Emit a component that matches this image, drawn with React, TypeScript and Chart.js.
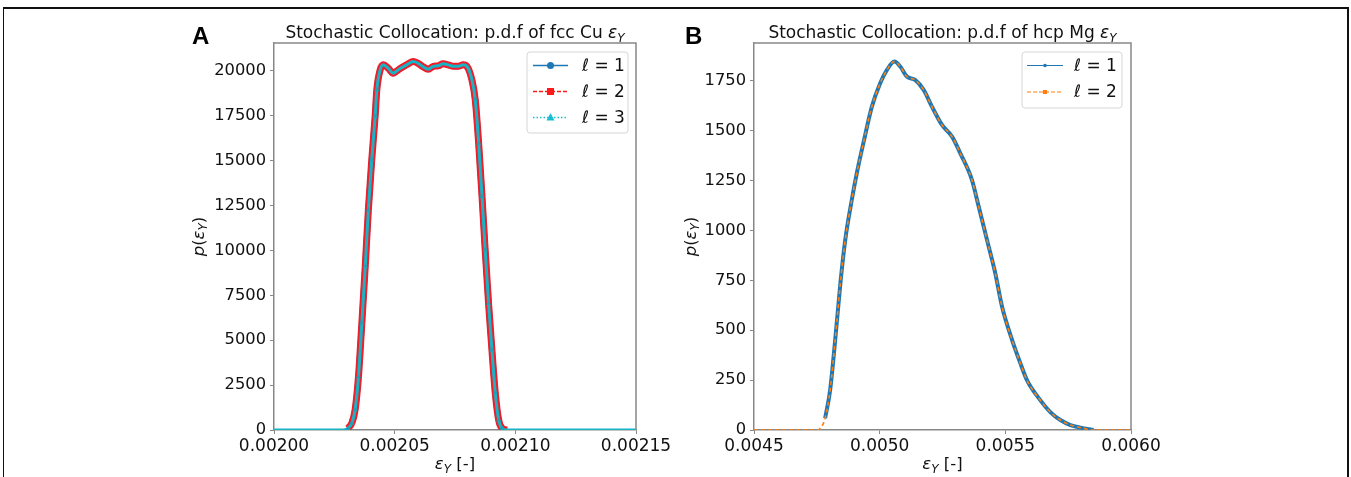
import React, { useEffect, useRef } from "react";
import { Chart, registerables } from "chart.js";

Chart.register(...registerables);

// ---------- Panel A: fcc Cu ----------
const cuX = [
  0.002, 0.00201, 0.00202, 0.002027, 0.0020295, 0.0020307, 0.0020322, 0.0020336, 0.002035,
  0.0020364, 0.0020378, 0.0020391, 0.0020405, 0.0020419, 0.0020426, 0.002044, 0.0020453,
  0.0020473, 0.0020494, 0.0020515, 0.0020535, 0.0020556, 0.0020577, 0.0020597, 0.0020618,
  0.0020639, 0.002066, 0.002068, 0.0020701, 0.0020722, 0.0020743, 0.0020763, 0.0020784,
  0.00208, 0.002082, 0.0020834, 0.0020848, 0.0020862, 0.0020875, 0.0020889, 0.0020903,
  0.0020917, 0.0020931, 0.0020945, 0.0020965, 0.002098, 0.00211, 0.00213, 0.00215,
];
const cuL1 = [
  null, null, null, null, null, null, 372, 1114, 2970,
  5944, 9098, 12256, 15042, 17455, 18941, 20056, 20334,
  20150, 19870, 20056, 20223, 20390, 20520, 20417, 20223,
  20093, 20250, 20278, 20390, 20334, 20250, 20250, 20334,
  20240, 19500, 18384, 15972, 12997, 10028, 7058, 4457,
  2043, 557, 93, null, null, null, null, null,
];
const cuL2 = [
  null, null, null, null, null, 100, 372, 1114, 2970,
  5944, 9098, 12256, 15042, 17455, 18941, 20056, 20334,
  20150, 19870, 20056, 20223, 20390, 20520, 20417, 20223,
  20093, 20250, 20278, 20390, 20334, 20250, 20250, 20334,
  20240, 19500, 18384, 15972, 12997, 10028, 7058, 4457,
  2043, 557, 93, 0, null, null, null, null,
];
const cuL3 = [
  0, 0, 0, 0, 10, 100, 372, 1114, 2970,
  5944, 9098, 12256, 15042, 17455, 18941, 20056, 20334,
  20150, 19870, 20056, 20223, 20390, 20520, 20417, 20223,
  20093, 20250, 20278, 20390, 20334, 20250, 20250, 20334,
  20240, 19500, 18384, 15972, 12997, 10028, 7058, 4457,
  2043, 557, 93, 0, 0, 0, 0, 0,
];
const cuXTicks = [0.002, 0.00205, 0.0021, 0.00215];
const cuYTicks = [0, 2500, 5000, 7500, 10000, 12500, 15000, 17500, 20000];

// ---------- Panel B: hcp Mg ----------
const mgX = [
  0.0045, 0.0046, 0.0047, 0.00475, 0.004763, 0.004783, 0.004803, 0.004823, 0.004845,
  0.004863, 0.004889, 0.004909, 0.004938, 0.004969, 0.005002, 0.005029, 0.005059, 0.005082,
  0.005108, 0.005141, 0.005175, 0.005208, 0.005248, 0.005288, 0.005321, 0.005367, 0.005394,
  0.005427, 0.00546, 0.005487, 0.005527, 0.00556, 0.005586, 0.005639, 0.005679, 0.005719,
  0.005759, 0.005799, 0.005851, 0.0059, 0.00595, 0.006,
];
const mgL1 = [
  null, null, null, null, null, 59, 201, 451, 752,
  953, 1153, 1287, 1454, 1621, 1738, 1805, 1847, 1822,
  1772, 1755, 1705, 1621, 1529, 1471, 1387, 1254, 1120,
  953, 786, 618, 451, 334, 250, 150, 90, 50,
  25, 12, 0, null, null, null,
];
const mgL2 = [
  0, 0, 0, 0, 8, 59, 201, 451, 752,
  953, 1153, 1287, 1454, 1621, 1738, 1805, 1847, 1822,
  1772, 1755, 1705, 1621, 1529, 1471, 1387, 1254, 1120,
  953, 786, 618, 451, 334, 250, 150, 90, 50,
  25, 12, 0, 0, 0, 0,
];
const mgXTicks = [0.0045, 0.005, 0.0055, 0.006];
const mgYTicks = [0, 250, 500, 750, 1000, 1250, 1500, 1750];

const legendA = ["ℓ = 1", "ℓ = 2", "ℓ = 3"];
const legendB = ["ℓ = 1", "ℓ = 2"];

const FONT = '"DejaVu Sans", sans-serif';

type Part = { t: string; it?: boolean; sub?: boolean };

function drawParts(ctx: CanvasRenderingContext2D, parts: Part[], x: number, y: number, size: number, align: "left" | "center") {
  const fonts = parts.map((p) => `${p.it ? "italic " : ""}${p.sub ? Math.round(size * 0.7) : size}px ${FONT}`);
  const widths = parts.map((p, i) => {
    ctx.font = fonts[i];
    return ctx.measureText(p.t).width;
  });
  const total = widths.reduce((a, b) => a + b, 0);
  let cx = align === "center" ? x - total / 2 : x;
  ctx.textAlign = "left";
  parts.forEach((p, i) => {
    ctx.font = fonts[i];
    ctx.fillText(p.t, cx, p.sub ? y + size * 0.24 : y);
    cx += widths[i];
  });
}

type LegendEntry = { label: string; color: string; lw: number; dash: number[]; marker: string; ms: number };
type PanelCfg = {
  title: string;
  letter: string;
  letterX: number;
  ylabelX: number;
  legendBox: [number, number, number, number];
  lineX: [number, number];
  textX: number;
  rowY: number[];
  entries: LegendEntry[];
};

function drawMarker(ctx: CanvasRenderingContext2D, m: string, x: number, y: number, s: number, color: string) {
  ctx.fillStyle = color;
  ctx.beginPath();
  if (m === "circle") ctx.arc(x, y, s, 0, Math.PI * 2);
  else if (m === "square") ctx.rect(x - s, y - s, 2 * s, 2 * s);
  else if (m === "triangle") {
    ctx.moveTo(x, y - s * 1.15);
    ctx.lineTo(x + s, y + s * 0.75);
    ctx.lineTo(x - s, y + s * 0.75);
    ctx.closePath();
  }
  ctx.fill();
}

function makePlugin(cfg: PanelCfg) {
  return {
    id: "panelDecor" + cfg.letter,
    afterDraw(chart: any) {
      const ctx: CanvasRenderingContext2D = chart.ctx;
      const a = chart.chartArea;
      ctx.save();
      // top & right spines
      ctx.strokeStyle = "#888";
      ctx.lineWidth = 1.5;
      ctx.beginPath();
      ctx.moveTo(a.left, a.top);
      ctx.lineTo(a.right, a.top);
      ctx.lineTo(a.right, a.bottom);
      ctx.stroke();
      ctx.fillStyle = "#111";
      ctx.textBaseline = "alphabetic";
      const cx = (a.left + a.right) / 2;
      // title
      drawParts(ctx, [{ t: cfg.title }, { t: "ε", it: true }, { t: "Y", it: true, sub: true }], cx, 38, 17, "center");
      // panel letter
      ctx.font = `bold 24px "Liberation Sans", Arial, sans-serif`;
      ctx.textAlign = "left";
      ctx.fillStyle = "#000";
      ctx.fillText(cfg.letter, cfg.letterX, 44);
      ctx.fillStyle = "#111";
      // x label
      drawParts(ctx, [{ t: "ε", it: true }, { t: "Y", it: true, sub: true }, { t: " [-]" }], cx, 469, 16.5, "center");
      // y label
      ctx.save();
      ctx.translate(cfg.ylabelX, (a.top + a.bottom) / 2);
      ctx.rotate(-Math.PI / 2);
      ctx.textBaseline = "middle";
      drawParts(ctx, [{ t: "p", it: true }, { t: "(" }, { t: "ε", it: true }, { t: "Y", it: true, sub: true }, { t: ")" }], 0, 0, 16.5, "center");
      ctx.restore();
      // legend box
      const [bx0, by0, bx1, by1] = cfg.legendBox;
      ctx.beginPath();
      if ((ctx as any).roundRect) (ctx as any).roundRect(bx0, by0, bx1 - bx0, by1 - by0, 3);
      else ctx.rect(bx0, by0, bx1 - bx0, by1 - by0);
      ctx.fillStyle = "rgba(255,255,255,0.85)";
      ctx.fill();
      ctx.strokeStyle = "#d6d6d6";
      ctx.lineWidth = 1;
      ctx.stroke();
      cfg.entries.forEach((e, i) => {
        const y = cfg.rowY[i];
        ctx.strokeStyle = e.color;
        ctx.lineWidth = e.lw;
        ctx.setLineDash(e.dash);
        ctx.beginPath();
        ctx.moveTo(cfg.lineX[0], y);
        ctx.lineTo(cfg.lineX[1], y);
        ctx.stroke();
        ctx.setLineDash([]);
        drawMarker(ctx, e.marker, (cfg.lineX[0] + cfg.lineX[1]) / 2, y, e.ms, e.color);
        ctx.fillStyle = "#111";
        ctx.textBaseline = "middle";
        const [lp, rp] = e.label.split(" = ");
        drawParts(ctx, [{ t: lp, it: true }, { t: " = " + rp }], cfg.textX, y + 1, 17, "left");
      });
      ctx.restore();
    },
  };
}

function scalesFor(min: number, max: number, xt: number[], digits: number, ymax: number, yt: number[]) {
  return {
    x: {
      type: "linear",
      min,
      max,
      afterBuildTicks: (s: any) => {
        s.ticks = xt.map((v) => ({ value: v }));
      },
      afterFit: (s: any) => {
        s.height = 40;
      },
      ticks: {
        callback: (v: any) => Number(v).toFixed(digits),
        font: { family: FONT, size: 17 },
        color: "#111",
        padding: 2,
        maxRotation: 0,
        autoSkip: false,
      },
      grid: { drawOnChartArea: false, drawTicks: true, tickLength: 4, color: "#888", lineWidth: 1 },
      border: { display: true, color: "#888", width: 1.5 },
    },
    y: {
      type: "linear",
      min: 0,
      max: ymax,
      afterBuildTicks: (s: any) => {
        s.ticks = yt.map((v) => ({ value: v }));
      },
      afterFit: (s: any) => {
        s.width = 80;
      },
      ticks: { font: { family: FONT, size: 16.3 }, color: "#111", padding: 4, autoSkip: false, callback: (v: any) => String(v) },
      grid: { drawOnChartArea: false, drawTicks: true, tickLength: 4, color: "#888", lineWidth: 1 },
      border: { display: true, color: "#888", width: 1.5 },
    },
  };
}

function pts(xs: number[], ys: (number | null)[]) {
  return xs.map((x, i) => ({ x, y: ys[i] }));
}

export default function App() {
  const refA = useRef<HTMLCanvasElement>(null);
  const refB = useRef<HTMLCanvasElement>(null);

  useEffect(() => {
    const cfgA: PanelCfg = {
      title: "Stochastic Collocation: p.d.f of fcc Cu ",
      letter: "A",
      letterX: 192,
      ylabelX: 200,
      legendBox: [527, 52, 628, 133],
      lineX: [533, 568],
      textX: 582,
      rowY: [65.5, 91.5, 117.5],
      entries: [
        { label: legendA[0], color: "#1f77b4", lw: 1.5, dash: [], marker: "circle", ms: 3.5 },
        { label: legendA[1], color: "#ff1a1a", lw: 1.5, dash: [4, 2], marker: "square", ms: 3.5 },
        { label: legendA[2], color: "#17becf", lw: 1.5, dash: [1.5, 2], marker: "triangle", ms: 4 },
      ],
    };
    const cfgB: PanelCfg = {
      title: "Stochastic Collocation: p.d.f of hcp Mg ",
      letter: "B",
      letterX: 685,
      ylabelX: 692,
      legendBox: [1022, 52, 1122, 108],
      lineX: [1027, 1063],
      textX: 1074,
      rowY: [65.5, 92],
      entries: [
        { label: legendB[0], color: "#1f77b4", lw: 1.2, dash: [], marker: "circle", ms: 1.8 },
        { label: legendB[1], color: "#ff7f0e", lw: 1.2, dash: [4, 2], marker: "square", ms: 2 },
      ],
    };

    const chartA = new Chart(refA.current!, {
      type: "line",
      data: {
        datasets: [
          { label: legendA[0], data: pts(cuX, cuL1), borderColor: "#1f77b4", backgroundColor: "#1f77b4", borderWidth: 6, pointRadius: 0, cubicInterpolationMode: "monotone", spanGaps: false, order: 3 },
          { label: legendA[1], data: pts(cuX, cuL2), borderColor: "#f21d2a", backgroundColor: "#f21d2a", borderWidth: 7, pointRadius: 0, cubicInterpolationMode: "monotone", spanGaps: false, order: 2 },
          {
            label: legendA[2],
            data: pts(cuX, cuL3),
            borderColor: "#17b4c6",
            backgroundColor: "#17b4c6",
            borderWidth: 3,
            pointStyle: "triangle",
            pointRadius: (c: any) => (c.raw && c.raw.y > 50 && c.raw.y < 19000 ? 3 : 0),
            pointBorderWidth: 0,
            pointBackgroundColor: "#17a3b8",
            cubicInterpolationMode: "monotone",
            order: 1,
          },
        ],
      } as any,
      options: {
        animation: false,
        responsive: false,
        maintainAspectRatio: false,
        events: [],
        layout: { padding: { left: 194, right: 715, top: 43, bottom: 7 } },
        plugins: { legend: { display: false }, tooltip: { enabled: false }, title: { display: false } },
        scales: scalesFor(0.002, 0.00215, cuXTicks, 5, 21550, cuYTicks) as any,
      },
      plugins: [makePlugin(cfgA)],
    });

    const chartB = new Chart(refB.current!, {
      type: "line",
      data: {
        datasets: [
          { label: legendB[0], data: pts(mgX, mgL1), borderColor: "#1f77b4", backgroundColor: "#1f77b4", borderWidth: 4, pointRadius: 0, cubicInterpolationMode: "monotone", spanGaps: false, order: 2 },
          { label: legendB[1], data: pts(mgX, mgL2), borderColor: "#ff7f0e", backgroundColor: "#ff7f0e", borderWidth: 1.6, borderDash: [4, 3], pointRadius: 0, cubicInterpolationMode: "monotone", order: 1 },
        ],
      } as any,
      options: {
        animation: false,
        responsive: false,
        maintainAspectRatio: false,
        events: [],
        layout: { padding: { left: 674, right: 220, top: 43, bottom: 7 } },
        plugins: { legend: { display: false }, tooltip: { enabled: false }, title: { display: false } },
        scales: scalesFor(0.0045, 0.006, mgXTicks, 4, 1940, mgYTicks) as any,
      },
      plugins: [makePlugin(cfgB)],
    });

    return () => {
      chartA.destroy();
      chartB.destroy();
    };
  }, []);

  return (
    <div style={{ position: "fixed", left: 0, top: 0, width: 1351, height: 477, background: "#fff", overflow: "hidden" }}>
      <div
        style={{
          position: "absolute",
          left: 3,
          top: 7,
          width: 1346,
          height: 520,
          boxSizing: "border-box",
          borderTop: "2px solid #111",
          borderLeft: "1.5px solid #111",
          borderRight: "2px solid #111",
        }}
      />
      <canvas ref={refA} width={1351} height={477} style={{ position: "absolute", left: 0, top: 0, width: 1351, height: 477 }} />
      <canvas ref={refB} width={1351} height={477} style={{ position: "absolute", left: 0, top: 0, width: 1351, height: 477 }} />
    </div>
  );
}
